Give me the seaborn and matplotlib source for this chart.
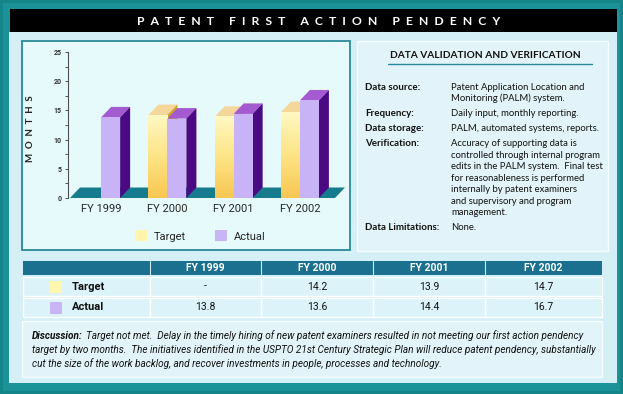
import numpy as np
import pandas as pd
import matplotlib
matplotlib.use("Agg")
import matplotlib.pyplot as plt
from matplotlib.patches import Rectangle, Polygon, Patch
from matplotlib.colors import LinearSegmentedColormap
import seaborn as sns

# ---------------- data ----------------
years = ["FY 1999", "FY 2000", "FY 2001", "FY 2002"]
series = ["Target", "Actual"]
target = [np.nan, 14.2, 13.9, 14.7]
actual = [13.8, 13.6, 14.4, 16.7]
y_ticks = [0, 5, 10, 15, 20, 25]

title = "PATENT FIRST ACTION PENDENCY"
panel_title = "DATA VALIDATION AND VERIFICATION"
panel_rows = [
    ("Data source:", ["Patent Application Location and", "Monitoring (PALM) system."]),
    ("Frequency:", ["Daily input, monthly reporting."]),
    ("Data storage:", ["PALM, automated systems, reports."]),
    ("Verification:", ["Accuracy of supporting data is",
                       "controlled through internal program",
                       "edits in the PALM system.  Final test",
                       "for reasonableness is performed",
                       "internally by patent examiners",
                       "and supervisory and program",
                       "management."]),
    ("Data Limitations:", ["None."]),
]
discussion_head = "Discussion:"
discussion_lines = [
    "Target not met.  Delay in the timely hiring of new patent examiners resulted in not meeting our first action pendency",
    "target by two months.  The initiatives identified in the USPTO 21st Century Strategic Plan will reduce patent pendency, substantially",
    "cut the size of the work backlog, and recover investments in people, processes and technology.",
]

# ---------------- style ----------------
sns.set_theme(style="white")
NARROW = ["Roboto", "DejaVu Sans"]
SANS = ["Lato", "DejaVu Sans"]
plt.rcParams["font.family"] = NARROW

W, H = 623, 394
fig = plt.figure(figsize=(W / 100, H / 100), dpi=100)
fig.patch.set_facecolor("#17888c")

bg = fig.add_axes([0, 0, 1, 1], zorder=0)
bg.set_xlim(0, W)
bg.set_ylim(H, 0)
bg.axis("off")


def rect(x0, y0, x1, y1, fc, ec="none", lw=0, z=1):
    bg.add_patch(Rectangle((x0, y0), x1 - x0, y1 - y0, facecolor=fc,
                           edgecolor=ec, linewidth=lw, zorder=z))


# frame
rect(0, 0, W, H, "#14868a")
rect(3, 3, W - 3, H - 3, "#1a9297")
rect(9, 32, 617, 383, "#d4eff6")
rect(10, 9, 617, 32, "#000000", z=2)
bg.text(319, 21, "  ".join(title), color="white", fontsize=8.8, fontweight="bold",
        family=SANS, ha="center", va="center", zorder=3)

# chart box and right panel
rect(22, 41, 350, 250, "#e6fafc", ec="#2a8a98", lw=1.3)
rect(357, 41, 608, 251, "#e2f4fa", ec="#f4fcff", lw=1)

# ---------------- chart ----------------
AX_L, AX_R, AX_T, AX_B = 68, 335, 52, 198
ax = fig.add_axes([AX_L / W, (H - AX_B) / H, (AX_R - AX_L) / W, (AX_B - AX_T) / H], zorder=2)
ax.patch.set_alpha(0)

df = pd.DataFrame({
    "year": years * 2,
    "series": [series[0]] * len(years) + [series[1]] * len(years),
    "months": list(target) + list(actual),
})
front = {"Target": "#fde98a", "Actual": "#c8b3f6"}
topc = {"Target": "#f6d79b", "Actual": "#a45ad0"}
sidec = {"Target": "#d4a22a", "Actual": "#4a0a84"}

sns.barplot(data=df, x="year", y="months", hue="series", order=years,
            hue_order=series, palette=front, width=0.574, saturation=1,
            edgecolor="none", linewidth=0, legend=False, errorbar=None, ax=ax)

XL, XR = -0.5, 3.53
ax.set_xlim(XL, XR)
ax.set_ylim(0, 25)
ppx = (AX_R - AX_L) / (XR - XL)
ppy = (AX_B - AX_T) / 25.0
dx, dy = 10 / ppx, 10.5 / ppy

# floor
fx0 = XL + 2 / ppx
ax.add_patch(Polygon([(fx0, 0), (XR, 0), (XR + dx, dy), (fx0 + dx, dy)],
                     closed=True, facecolor="#177b8e", edgecolor="none",
                     zorder=3, clip_on=False))

grad_cmap = LinearSegmentedColormap.from_list("tg", ["#f8c752", "#fde486", "#fff8c2"])
bars = []
for cont, s in zip(ax.containers, series):
    for p in cont.patches:
        h = p.get_height()
        if h is None or not np.isfinite(h) or h <= 0:
            continue
        bars.append((p.get_x(), p, s))
bars.sort(key=lambda t: t[0])
for i, (_, p, s) in enumerate(bars):
    x0, w, h = p.get_x(), p.get_width(), p.get_height()
    z = 4 + i * 0.1
    p.set_zorder(z + 0.05)
    ax.add_patch(Polygon([(x0, h), (x0 + w, h), (x0 + w + dx, h + dy), (x0 + dx, h + dy)],
                         closed=True, facecolor=topc[s], edgecolor="none",
                         zorder=z, clip_on=False))
    ax.add_patch(Polygon([(x0 + w, 0), (x0 + w + dx, dy), (x0 + w + dx, h + dy), (x0 + w, h)],
                         closed=True, facecolor=sidec[s], edgecolor="none",
                         zorder=z, clip_on=False))
    if s == "Target":
        grad = np.linspace(0, 1, 64).reshape(-1, 1)
        ax.imshow(grad, extent=(x0, x0 + w, 0, h), origin="lower", cmap=grad_cmap,
                  aspect="auto", zorder=z + 0.06, interpolation="bilinear")
ax.set_xlim(XL, XR)
ax.set_ylim(0, 25)

for side in ["top", "right", "bottom"]:
    ax.spines[side].set_visible(False)
ax.spines["left"].set_color("#505050")
ax.spines["left"].set_linewidth(0.8)
ax.set_yticks(y_ticks)
ax.set_yticks(np.arange(2.5, 25, 5), minor=True)
ax.tick_params(axis="y", which="both", direction="out", length=2.5, width=0.7,
               color="#505050", labelsize=5, pad=2, left=True)
ax.tick_params(axis="x", length=0, pad=4, labelsize=8)
for t in ax.get_yticklabels():
    t.set_fontweight("bold")
    t.set_color("#333333")
ax.set_xlabel("")
ax.set_ylabel("  ".join("MONTHS"), fontsize=7, fontweight="bold", family=SANS, color="#222222")
ax.yaxis.set_label_coords((35 - AX_L) / (AX_R - AX_L), (AX_B - 129) / (AX_B - AX_T))
ax.grid(False)

leg_cols = {"Target": "#fff5ad", "Actual": "#c9b4f6"}
fig.legend([Patch(facecolor=leg_cols[s], edgecolor="none") for s in series], series,
           loc="center", bbox_to_anchor=(200 / W, (H - 236) / H), ncol=2, frameon=False,
           fontsize=8, handlelength=1.1, handleheight=1.1, handletextpad=0.6,
           columnspacing=2.6)

# ---------------- right panel ----------------
bg.text(485, 55, panel_title, fontsize=7.3, fontweight="bold", family=SANS,
        ha="center", va="center", color="#111111", zorder=3)
bg.plot([388, 592], [64, 64], color="#2a8a98", lw=1, zorder=3)
LINE = 11.5
PARA = 3.5
y = 87
for lab, vals in panel_rows:
    bg.text(365, y, lab, fontsize=7, fontweight="bold", family=SANS,
            ha="left", va="center", color="#111111", zorder=3)
    for k, v in enumerate(vals):
        bg.text(451, y + k * LINE, v, fontsize=6.8, family=SANS, ha="left",
                va="center", color="#111111", zorder=3)
    y += len(vals) * LINE + PARA

# ---------------- table ----------------
cols = [23, 150, 261, 373, 485, 602]
HY0, HY1 = 261, 275
R1 = (277, 296)
R2 = (298, 317)
rect(23, HY0, 602, HY1, "#1b6f8f", z=2)
for c in cols[1:-1]:
    bg.plot([c, c], [HY0, HY1], color="#cfe8ef", lw=0.8, zorder=3)
for (ya, yb) in (R1, R2):
    for c0, c1 in zip(cols[:-1], cols[1:]):
        rect(c0, ya, c1, yb, "#dcf3f9", ec="white", lw=1, z=2)
for j, yr in enumerate(years):
    cx = (cols[j + 1] + cols[j + 2]) / 2
    bg.text(cx, (HY0 + HY1) / 2, yr, fontsize=7.5, fontweight="bold", color="white",
            ha="center", va="center", zorder=3)
for (ya, yb), s, vals in ((R1, "Target", target), (R2, "Actual", actual)):
    cy = (ya + yb) / 2
    rect(50, cy - 6, 62, cy + 6, leg_cols[s], z=3)
    bg.text(72, cy, s, fontsize=8, fontweight="bold", color="#111111",
            ha="left", va="center", zorder=3)
    for j, v in enumerate(vals):
        cx = (cols[j + 1] + cols[j + 2]) / 2
        txt = "-" if not np.isfinite(v) else f"{v:.1f}"
        bg.text(cx, cy, txt, fontsize=7.5, color="#111111",
                ha="center", va="center", zorder=3)

# ---------------- discussion ----------------
rect(22, 321, 602, 377, "#e2f4fa", ec="#f4fcff", lw=1)
fig.canvas.draw()
r = fig.canvas.get_renderer()
inv = bg.transData.inverted()

# choose a font size so the longest line fits in the box
fs = 7.6
while fs > 5:
    t = bg.text(0, 0, discussion_lines[1], fontsize=fs, style="italic")
    wpx = t.get_window_extent(renderer=r).width
    t.remove()
    if wpx <= 568:
        break
    fs -= 0.1

head = bg.text(32, 336, discussion_head, fontsize=fs, fontweight="bold", style="italic",
               color="#111111", ha="left", va="center", zorder=3)
bb = head.get_window_extent(renderer=r)
x_after = inv.transform((bb.x1, 0))[0] + 3
for k, line in enumerate(discussion_lines):
    bg.text(x_after if k == 0 else 32, 336 + k * 14, line, fontsize=fs, style="italic",
            color="#111111", ha="left", va="center", zorder=3)

fig.savefig("out.png", dpi=100, facecolor=fig.get_facecolor())
